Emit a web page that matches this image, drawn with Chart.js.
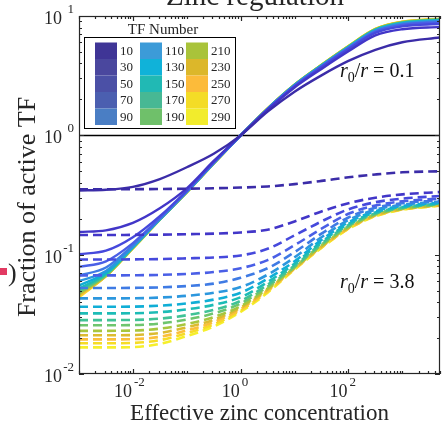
<!DOCTYPE html>
<html>
<head>
<meta charset="utf-8">
<script src="https://cdn.jsdelivr.net/npm/chart.js@4.4.1/dist/chart.umd.min.js"></script>
<style>
  html, body { margin: 0; padding: 0; background: #fff; }
  #wrap { width: 444px; height: 426px; }
</style>
</head>
<body>
<div id="wrap"><canvas id="zincChart" width="444" height="426"></canvas></div>
<script>
// effective zinc concentration where every curve is sampled
const zinc = [0.001, 0.00316, 0.01, 0.0316, 0.1, 0.316, 1, 3.16, 10, 31.6, 100, 316, 1000, 5000];

const tfNumbers = [10, 30, 50, 70, 90, 110, 130, 150, 170, 190, 210, 230, 250, 270, 290];

// fraction of active TF, r0/r = 0.1 (solid), one row per TF number
const activeLowRatio = [
  [0.345, 0.35, 0.37, 0.43, 0.54, 0.70, 1, 1.58, 2.32, 3.18, 4.2, 5.21, 6.03, 6.6],
  [0.155, 0.16, 0.185, 0.245, 0.36, 0.61, 1, 1.63, 2.52, 3.6, 5.06, 6.88, 7.75, 8.1],
  [0.101, 0.108, 0.14, 0.21, 0.345, 0.595, 1, 1.65, 2.57, 3.72, 5.26, 7.22, 8.18, 8.6],
  [0.079, 0.088, 0.125, 0.203, 0.34, 0.59, 1, 1.66, 2.60, 3.77, 5.36, 7.38, 8.40, 8.85],
  [0.067, 0.078, 0.12, 0.2, 0.338, 0.588, 1, 1.66, 2.61, 3.80, 5.41, 7.48, 8.53, 9.0],
  [0.06, 0.073, 0.117, 0.199, 0.337, 0.586, 1, 1.67, 2.62, 3.82, 5.45, 7.55, 8.62, 9.1],
  [0.055, 0.071, 0.116, 0.198, 0.336, 0.585, 1, 1.67, 2.63, 3.84, 5.48, 7.60, 8.69, 9.18],
  [0.052, 0.069, 0.115, 0.198, 0.335, 0.584, 1, 1.67, 2.64, 3.85, 5.51, 7.65, 8.75, 9.25],
  [0.05, 0.068, 0.115, 0.197, 0.335, 0.583, 1, 1.67, 2.64, 3.86, 5.53, 7.68, 8.79, 9.3],
  [0.048, 0.067, 0.114, 0.197, 0.334, 0.582, 1, 1.675, 2.645, 3.87, 5.55, 7.71, 8.83, 9.34],
  [0.047, 0.067, 0.114, 0.197, 0.334, 0.582, 1, 1.676, 2.65, 3.88, 5.56, 7.73, 8.87, 9.38],
  [0.046, 0.066, 0.114, 0.196, 0.334, 0.581, 1, 1.677, 2.654, 3.885, 5.57, 7.76, 8.9, 9.41],
  [0.045, 0.066, 0.113, 0.196, 0.333, 0.581, 1, 1.678, 2.657, 3.89, 5.58, 7.77, 8.92, 9.44],
  [0.0445, 0.066, 0.113, 0.196, 0.333, 0.58, 1, 1.679, 2.659, 3.895, 5.59, 7.79, 8.93, 9.46],
  [0.044, 0.066, 0.113, 0.196, 0.333, 0.58, 1, 1.68, 2.66, 3.9, 5.6, 7.8, 8.95, 9.48]
];

// fraction of active TF, r0/r = 3.8 (dashed)
const activeHighRatio = [
  [0.353, 0.353, 0.354, 0.355, 0.357, 0.36, 0.365, 0.373, 0.39, 0.415, 0.445, 0.47, 0.49, 0.50],
  [0.146, 0.146, 0.1465, 0.147, 0.1485, 0.150, 0.1535, 0.162, 0.19, 0.23, 0.27, 0.30, 0.32, 0.335],
  [0.091, 0.091, 0.0913, 0.0918, 0.0931, 0.0947, 0.0985, 0.112, 0.145, 0.19, 0.24, 0.275, 0.295, 0.31],
  [0.067, 0.067, 0.0672, 0.0677, 0.069, 0.0715, 0.077, 0.09, 0.12, 0.165, 0.22, 0.258, 0.28, 0.295],
  [0.0525, 0.0525, 0.0527, 0.0532, 0.0546, 0.0572, 0.064, 0.077, 0.105, 0.15, 0.205, 0.247, 0.27, 0.285],
  [0.043, 0.043, 0.0431, 0.0437, 0.0452, 0.048, 0.0535, 0.068, 0.095, 0.14, 0.195, 0.238, 0.262, 0.278],
  [0.0366, 0.0366, 0.0367, 0.0374, 0.039, 0.042, 0.048, 0.063, 0.088, 0.133, 0.187, 0.231, 0.256, 0.273],
  [0.0322, 0.0322, 0.0323, 0.033, 0.0348, 0.038, 0.044, 0.059, 0.084, 0.128, 0.181, 0.226, 0.251, 0.269],
  [0.0283, 0.0283, 0.0284, 0.0291, 0.0311, 0.0345, 0.041, 0.056, 0.081, 0.124, 0.177, 0.222, 0.248, 0.266],
  [0.0256, 0.0256, 0.0257, 0.0265, 0.0286, 0.0322, 0.039, 0.054, 0.079, 0.121, 0.173, 0.219, 0.245, 0.264],
  [0.023, 0.023, 0.0231, 0.024, 0.0262, 0.03, 0.037, 0.052, 0.078, 0.119, 0.17, 0.216, 0.243, 0.262],
  [0.0211, 0.0211, 0.0212, 0.0221, 0.0246, 0.0285, 0.036, 0.051, 0.077, 0.117, 0.168, 0.214, 0.241, 0.26],
  [0.0195, 0.0195, 0.0196, 0.0205, 0.0232, 0.0272, 0.035, 0.05, 0.076, 0.116, 0.166, 0.212, 0.24, 0.259],
  [0.0181, 0.0181, 0.0182, 0.0192, 0.022, 0.026, 0.034, 0.049, 0.076, 0.115, 0.165, 0.211, 0.239, 0.258],
  [0.0167, 0.0167, 0.0168, 0.0179, 0.0208, 0.025, 0.0332, 0.048, 0.075, 0.114, 0.164, 0.21, 0.238, 0.257]
];

// axis ticks: labelled decades
const xLabelTicks = [0.01, 1, 100];
const xLabelExp = ['-2', '0', '2'];
const yLabelTicks = [0.01, 0.1, 1, 10];
const yLabelExp = ['-2', '-1', '0', '1'];

const lineColors = ['#3b2ca8', '#4236c8', '#4649dc', '#4a5fe6', '#3f7be4', '#2c97de', '#10aed6', '#1dbcb6',
  '#40c296', '#6ec56e', '#a8c63e', '#dcbb30', '#fbbf3a', '#f6dc26', '#f6ef2c'];
const swatchColors = ['#3f3596', '#4a479e', '#4b50a6', '#4b5fb0', '#4a7ec4', '#3c9bd8', '#10b2d9', '#21b9b4',
  '#47b894', '#6fc06a', '#a9c33a', '#dcb72a', '#fcbb3a', '#f4dc26', '#f2ec2c'];

const serif = '"Liberation Serif", "Times New Roman", serif';
const ink = '#262626';

const datasets = [];
tfNumbers.forEach((n, i) => {
  datasets.push({
    label: 'TF ' + n + ' solid',
    data: zinc.map((z, k) => ({ x: z, y: activeLowRatio[i][k] })),
    borderColor: lineColors[i],
    borderWidth: 2.4,
    cubicInterpolationMode: 'monotone',
    pointRadius: 0,
    fill: false
  });
  datasets.push({
    label: 'TF ' + n + ' dashed',
    data: zinc.map((z, k) => ({ x: z, y: activeHighRatio[i][k] })),
    borderColor: lineColors[i],
    borderWidth: 2.6,
    borderDash: [9, 5],
    cubicInterpolationMode: 'monotone',
    pointRadius: 0,
    fill: false
  });
});

// r0/r label with italic r and subscript 0
function drawRatio(ctx, x, y, text) {
  ctx.textAlign = 'left';
  ctx.textBaseline = 'alphabetic';
  const parts = [
    ['italic 20px ' + serif, 'r', 0],
    ['14px ' + serif, '0', 5],
    ['20px ' + serif, '/', 0],
    ['italic 20px ' + serif, 'r', 0],
    ['20px ' + serif, ' = ' + text, 0]
  ];
  parts.forEach(([font, str, dy]) => {
    ctx.font = font;
    ctx.fillText(str, x, y + dy);
    x += ctx.measureText(str).width;
  });
}

const decorations = {
  id: 'decorations',
  beforeDatasetsDraw(chart) {
    const { ctx, chartArea: a, scales: { y } } = chart;
    const y1 = Math.round(y.getPixelForValue(1)) + 0.5;
    ctx.save();
    ctx.strokeStyle = '#000';
    ctx.lineWidth = 1.3;
    ctx.beginPath();
    ctx.moveTo(a.left, y1);
    ctx.lineTo(a.right, y1);
    ctx.stroke();
    ctx.restore();
  },
  afterDatasetsDraw(chart) {
    const { ctx, chartArea: a, scales: { x, y } } = chart;
    ctx.save();
    ctx.strokeStyle = ink;
    ctx.fillStyle = ink;
    ctx.lineWidth = 1.2;

    // axes box
    ctx.strokeRect(a.left + 0.5, a.top + 0.5, a.right - a.left - 1, a.bottom - a.top - 1);

    // x ticks, inward on bottom and top
    ctx.beginPath();
    for (let d = -3; d <= 3; d++) {
      for (let k = 1; k <= 9; k++) {
        const v = k * Math.pow(10, d);
        if (v < x.min || v > x.max) continue;
        const px = Math.round(x.getPixelForValue(v)) + 0.5;
        const len = (k === 1 && d % 2 === 0) ? 5 : 3;
        ctx.moveTo(px, a.bottom); ctx.lineTo(px, a.bottom - len);
        ctx.moveTo(px, a.top); ctx.lineTo(px, a.top + len);
      }
    }
    // y ticks, inward on left and right
    for (let d = -2; d <= 1; d++) {
      for (let k = 1; k <= 9; k++) {
        const v = k * Math.pow(10, d);
        if (v < y.min || v > y.max) continue;
        const py = Math.round(y.getPixelForValue(v)) + 0.5;
        const len = k === 1 ? 5 : 3;
        ctx.moveTo(a.left, py); ctx.lineTo(a.left + len, py);
        ctx.moveTo(a.right, py); ctx.lineTo(a.right - len, py);
      }
    }
    ctx.stroke();

    // x tick labels
    xLabelTicks.forEach((v, i) => {
      const px = x.getPixelForValue(v);
      ctx.font = '18px ' + serif;
      ctx.textAlign = 'right';
      ctx.fillText('10', px - 1, a.bottom + 23);
      ctx.font = '13px ' + serif;
      ctx.textAlign = 'left';
      ctx.fillText(xLabelExp[i], px + 1, a.bottom + 12);
    });

    // y tick labels
    yLabelTicks.forEach((v, i) => {
      const py = y.getPixelForValue(v);
      ctx.font = '18px ' + serif;
      ctx.textAlign = 'right';
      ctx.fillText('10', 62, py + 8);
      ctx.font = '13px ' + serif;
      ctx.fillText(yLabelExp[i], 74, py - 3);
    });

    // axis titles
    ctx.textAlign = 'center';
    ctx.font = '23px ' + serif;
    ctx.fillText('Effective zinc concentration', (a.left + a.right) / 2, 420);
    ctx.save();
    ctx.translate(35, 207);
    ctx.rotate(-Math.PI / 2);
    ctx.font = '26px ' + serif;
    ctx.fillText('Fraction of active TF', 0, 0);
    ctx.restore();

    // chart title, mostly above the page edge
    ctx.font = '29px ' + serif;
    ctx.fillText('Zinc regulation', 255, 5);

    // legend
    const bx = 84.5, by = 37.5, bw = 151, bh = 91;
    ctx.fillStyle = '#fff';
    ctx.fillRect(bx, by, bw, bh);
    ctx.strokeStyle = '#000';
    ctx.lineWidth = 1;
    ctx.strokeRect(bx, by, bw, bh);
    ctx.fillStyle = ink;
    ctx.font = '15px ' + serif;
    ctx.textAlign = 'center';
    ctx.fillText('TF Number', 163, 34);
    const colX = [95, 140, 186];
    ctx.font = '13px ' + serif;
    ctx.textAlign = 'left';
    ctx.textBaseline = 'middle';
    tfNumbers.forEach((n, i) => {
      const c = Math.floor(i / 5), r = i % 5;
      const sy = 42.5 + r * 16.5;
      ctx.fillStyle = swatchColors[i];
      ctx.fillRect(colX[c], sy, 22, 16.5);
      ctx.fillStyle = ink;
      ctx.fillText(String(n), colX[c] + 25, sy + 9);
    });

    // ratio annotations
    ctx.fillStyle = '#111';
    drawRatio(ctx, 340, 77, '0.1');
    drawRatio(ctx, 340, 288, '3.8');

    // neighbouring panel edge
    ctx.fillStyle = '#e23a62';
    ctx.fillRect(0, 268, 7, 7);
    ctx.fillStyle = ink;
    ctx.font = '26px ' + serif;
    ctx.textAlign = 'left';
    ctx.textBaseline = 'alphabetic';
    ctx.fillText(')', 8, 281);

    ctx.restore();
  }
};

new Chart(document.getElementById('zincChart'), {
  type: 'line',
  data: { datasets },
  options: {
    responsive: false,
    animation: false,
    events: [],
    layout: { padding: { left: 79, right: 4, top: 16, bottom: 52 } },
    scales: {
      x: { type: 'logarithmic', min: 0.001, max: 5000, display: false },
      y: { type: 'logarithmic', min: 0.01, max: 10, display: false }
    },
    plugins: { legend: { display: false }, tooltip: { enabled: false } }
  },
  plugins: [decorations]
});
</script>
</body>
</html>
